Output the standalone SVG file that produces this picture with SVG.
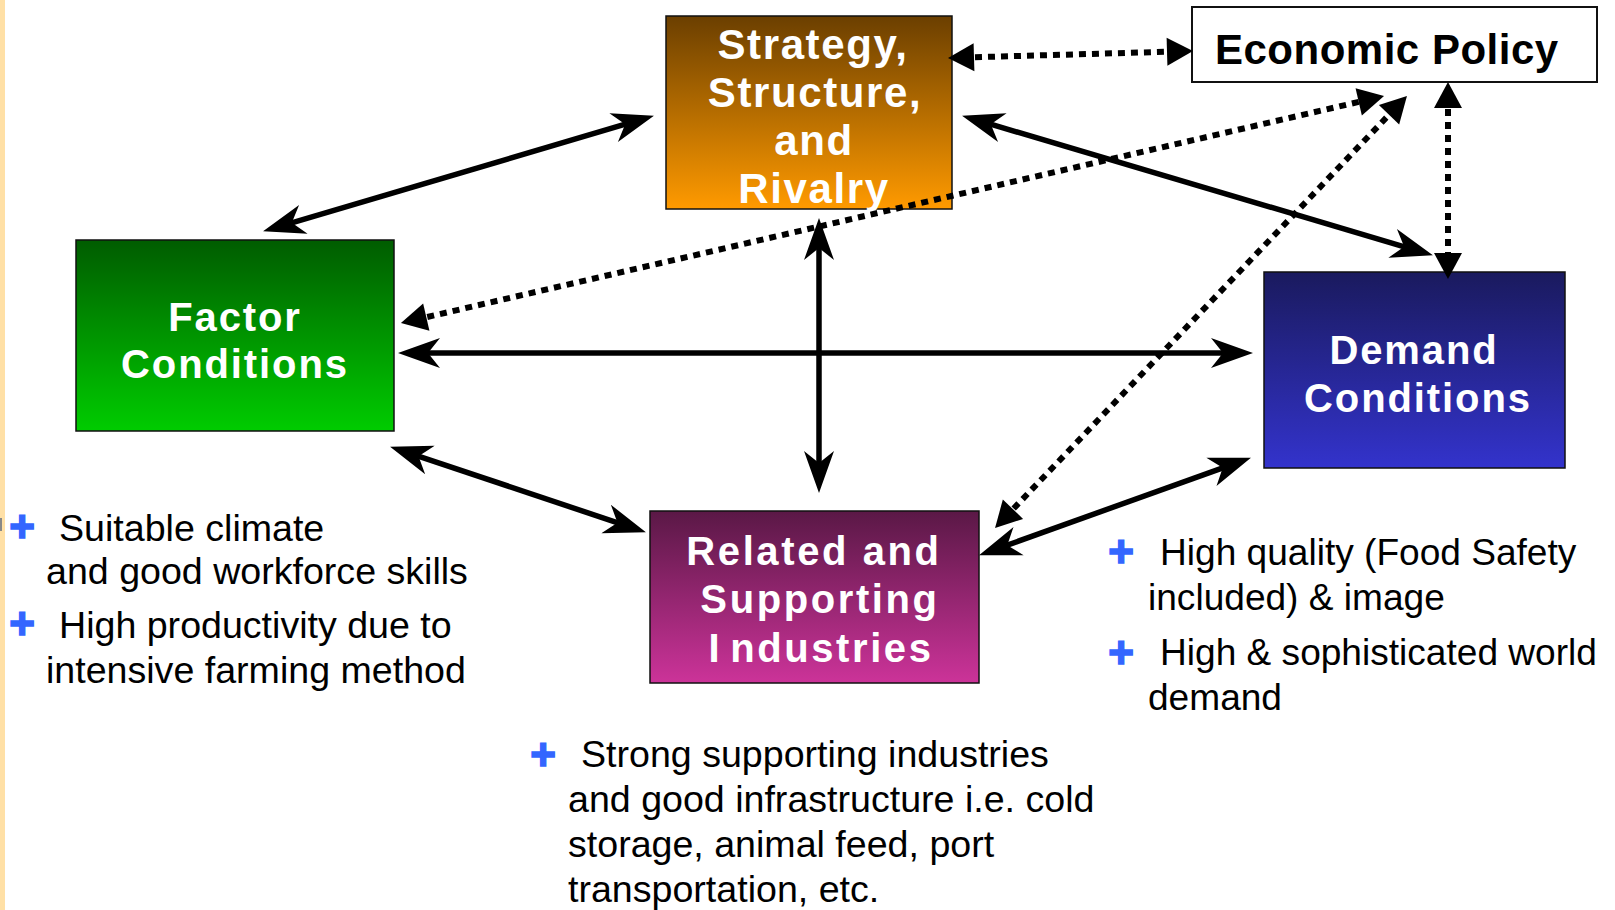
<svg xmlns="http://www.w3.org/2000/svg" width="1615" height="910" viewBox="0 0 1615 910">
<style>
.box{stroke:#111;stroke-width:1.5}
.nt{font-family:"Liberation Sans",Arial,sans-serif;font-weight:bold;fill:#fff;text-anchor:middle}
.bt{font-family:"Liberation Sans",Arial,sans-serif;font-size:37.6px;fill:#000}
.bt2{font-family:"Liberation Sans",Arial,sans-serif;font-size:37.1px;fill:#000}
.pl{font-family:"Liberation Sans",Arial,sans-serif;font-size:44px;font-weight:bold;fill:#3366FF;stroke:#3366FF;stroke-width:1.6;text-anchor:middle}
.sol{stroke:#000;stroke-width:5.5;fill:none;marker-start:url(#st);marker-end:url(#st)}
.dot{stroke:#000;stroke-width:6;fill:none;stroke-dasharray:7 6;marker-start:url(#tr);marker-end:url(#tr)}
</style>
<defs>
<linearGradient id="gS" x1="0" y1="0" x2="0" y2="1"><stop offset="0" stop-color="#6B3F00"/><stop offset="1" stop-color="#FF9A00"/></linearGradient>
<linearGradient id="gF" x1="0" y1="0" x2="0" y2="1"><stop offset="0" stop-color="#005C00"/><stop offset="1" stop-color="#00CC00"/></linearGradient>
<linearGradient id="gD" x1="0" y1="0" x2="0" y2="1"><stop offset="0" stop-color="#1A1A5E"/><stop offset="1" stop-color="#3333CC"/></linearGradient>
<linearGradient id="gR" x1="0" y1="0" x2="0" y2="1"><stop offset="0" stop-color="#5A1846"/><stop offset="1" stop-color="#CC3399"/></linearGradient>
<marker id="st" markerUnits="userSpaceOnUse" orient="auto-start-reverse" refX="0" refY="0" markerWidth="60" markerHeight="40" overflow="visible"><path d="M21,0 L-21,-15 L-9,0 L-21,15 Z" fill="#000"/></marker>
<marker id="tr" markerUnits="userSpaceOnUse" orient="auto-start-reverse" refX="0" refY="0" markerWidth="40" markerHeight="40" overflow="visible"><path d="M14,0 L-12,-14 L-12,14 Z" fill="#000"/></marker>
</defs>
<rect x="0" y="0" width="1615" height="910" fill="#fff"/>
<rect x="0" y="0" width="5" height="910" fill="#FFE0A6"/>
<rect x="0" y="518" width="2" height="13" fill="#888"/>

<g id="strategy">
<rect class="box" x="666" y="16" width="286" height="193" fill="url(#gS)"/>
<text class="nt" font-size="42" letter-spacing="1.6"><tspan x="813" y="59">Strategy,</tspan><tspan x="815" y="107">Structure,</tspan><tspan x="814" y="155">and</tspan><tspan x="814" y="203">Rivalry</tspan></text>
</g>
<g id="economic-policy">
<rect x="1192" y="7" width="405" height="75" fill="#fff" stroke="#111" stroke-width="2"/>
<text x="1215" y="64" font-family="'Liberation Sans',Arial,sans-serif" font-weight="bold" font-size="42" letter-spacing="0.5" fill="#000">Economic Policy</text>
</g>
<g id="factor">
<rect class="box" x="76" y="240" width="318" height="191" fill="url(#gF)"/>
<text class="nt" font-size="40" letter-spacing="1.9"><tspan x="235" y="331">Factor</tspan><tspan x="235" y="378">Conditions</tspan></text>
</g>
<g id="demand">
<rect class="box" x="1264" y="272" width="301" height="196" fill="url(#gD)"/>
<text class="nt" font-size="40" letter-spacing="1.9"><tspan x="1414" y="364">Demand</tspan><tspan x="1418" y="412">Conditions</tspan></text>
</g>
<g id="related">
<rect class="box" x="650" y="511" width="329" height="172" fill="url(#gR)"/>
<text class="nt" font-size="40" letter-spacing="2.6"><tspan x="814" y="565">Related and</tspan><tspan x="820" y="613">Supporting</tspan><tspan x="821" y="662">I<tspan dx="8">ndustries</tspan></tspan></text>
</g>

<g id="connectors">
<line class="sol" x1="283.2" y1="225.3" x2="633.8" y2="121.7"/>
<line class="sol" x1="982.2" y1="121.7" x2="1412.8" y2="249.3"/>
<line class="sol" x1="419" y1="353" x2="1232" y2="353"/>
<line class="sol" x1="819" y1="239" x2="819" y2="472"/>
<line class="sol" x1="410" y1="453.3" x2="626" y2="525.6"/>
<line class="sol" x1="998.8" y1="548.2" x2="1231.2" y2="464.8"/>
<line class="dot" x1="962" y1="57.6" x2="1179" y2="51.4"/>
<line class="dot" x1="1448" y1="96" x2="1448" y2="265"/>
<line class="dot" x1="414.6" y1="319.9" x2="1370.4" y2="99.2"/>
<line class="dot" x1="1004.7" y1="517.9" x2="1397.3" y2="106.1"/>
</g>

<g id="factor-notes">
<text class="pl" x="22" y="542">+</text>
<text class="pl" x="22" y="639">+</text>
<text class="bt" x="59" y="541">Suitable climate</text>
<text class="bt" x="46" y="584">and good workforce skills</text>
<text class="bt" x="59" y="638">High productivity due to</text>
<text class="bt" x="46" y="683">intensive farming method</text>
</g>
<g id="demand-notes">
<text class="pl" x="1121" y="567">+</text>
<text class="pl" x="1121" y="668">+</text>
<text class="bt2" x="1160" y="565">High quality (Food Safety</text>
<text class="bt2" x="1148" y="610">included) &amp; image</text>
<text class="bt2" x="1160" y="665">High &amp; sophisticated world</text>
<text class="bt2" x="1148" y="710">demand</text>
</g>
<g id="related-notes">
<text class="pl" x="543" y="770">+</text>
<text class="bt" x="581" y="767">Strong supporting industries</text>
<text class="bt" x="568" y="812">and good infrastructure i.e. cold</text>
<text class="bt" x="568" y="857">storage, animal feed, port</text>
<text class="bt" x="568" y="902">transportation, etc.</text>
</g>
</svg>
